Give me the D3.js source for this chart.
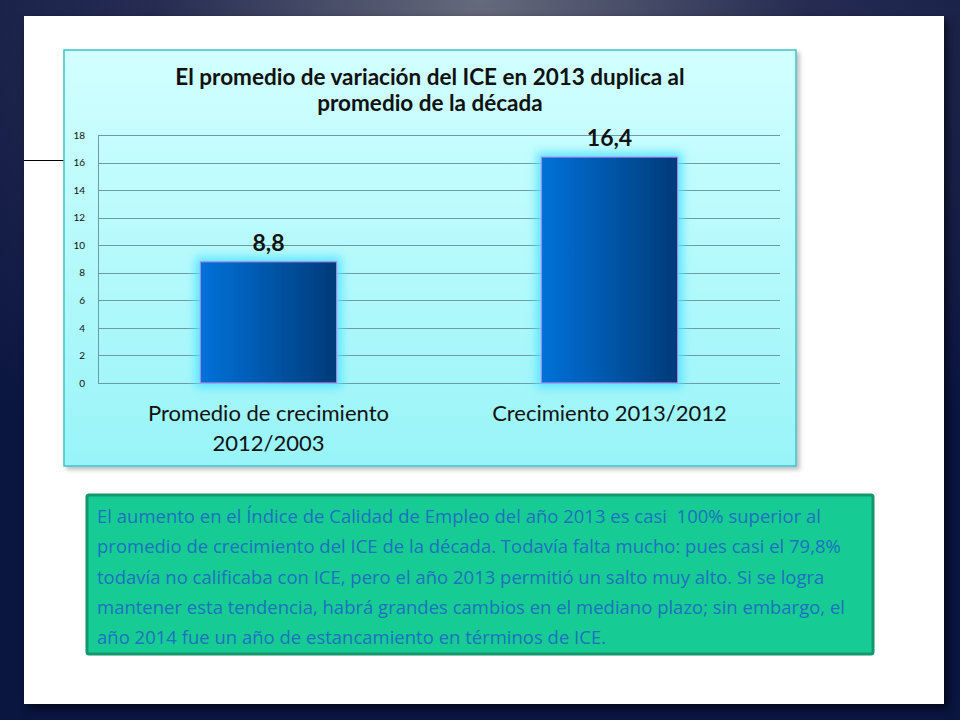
<!DOCTYPE html>
<html>
<head>
<meta charset="utf-8">
<script src="https://cdn.jsdelivr.net/npm/d3@7"></script>
<style>
  html, body { margin: 0; padding: 0; background: #0b1538; }
  svg { display: block; }
</style>
</head>
<body>
<div id="chart"></div>
<script>
var categories = [["Promedio de crecimiento", "2012/2003"], ["Crecimiento 2013/2012"]];
var values = [8.8, 16.4];
var valueLabels = ["8,8", "16,4"];
var yTicks = [0, 2, 4, 6, 8, 10, 12, 14, 16, 18];
var titleLines = ["El promedio de variación del ICE en 2013 duplica al", "promedio de la década"];
var noteLines = [
  "El aumento en el Índice de Calidad de Empleo del año 2013 es casi  100% superior al",
  "promedio de crecimiento del ICE de la década. Todavía falta mucho: pues casi el 79,8%",
  "todavía no calificaba con ICE, pero el año 2013 permitió un salto muy alto. Si se logra",
  "mantener esta tendencia, habrá grandes cambios en el mediano plazo; sin embargo, el",
  "año 2014 fue un año de estancamiento en términos de ICE."
];

var W = 960, H = 720;
var font = "Lato, 'Open Sans', sans-serif";

var svg = d3.select("#chart").append("svg")
  .attr("width", W)
  .attr("height", H);

var defs = svg.append("defs");

// slide background
var bg = defs.append("radialGradient").attr("id", "bg")
  .attr("cx", "50%").attr("cy", "0%").attr("r", "75%");
bg.append("stop").attr("offset", "0%").attr("stop-color", "#666a7c");
bg.append("stop").attr("offset", "45%").attr("stop-color", "#262c52");
bg.append("stop").attr("offset", "100%").attr("stop-color", "#0a1540");

var chartBg = defs.append("linearGradient").attr("id", "chartBg")
  .attr("x1", 0).attr("y1", 0).attr("x2", 0).attr("y2", 1);
chartBg.append("stop").attr("offset", "0%").attr("stop-color", "#d2ffff");
chartBg.append("stop").attr("offset", "100%").attr("stop-color", "#98f4f8");

var barFill = defs.append("linearGradient").attr("id", "barFill")
  .attr("x1", 0).attr("y1", 0).attr("x2", 1).attr("y2", 0);
barFill.append("stop").attr("offset", "0%").attr("stop-color", "#0072da");
barFill.append("stop").attr("offset", "100%").attr("stop-color", "#013a78");

var glow = defs.append("filter").attr("id", "glow")
  .attr("x", "-30%").attr("y", "-30%").attr("width", "160%").attr("height", "160%");
glow.append("feMorphology").attr("in", "SourceAlpha").attr("operator", "dilate").attr("radius", 4).attr("result", "d");
glow.append("feGaussianBlur").attr("in", "d").attr("stdDeviation", 5).attr("result", "b");
glow.append("feFlood").attr("flood-color", "#55e4ff").attr("flood-opacity", 0.95);
glow.append("feComposite").attr("in2", "b").attr("operator", "in").attr("result", "g");
var gm = glow.append("feMerge");
gm.append("feMergeNode").attr("in", "g");
gm.append("feMergeNode").attr("in", "SourceGraphic");

var shadow = defs.append("filter").attr("id", "shadow")
  .attr("x", "-5%").attr("y", "-5%").attr("width", "110%").attr("height", "110%");
shadow.append("feDropShadow").attr("dx", 3).attr("dy", 3).attr("stdDeviation", 2)
  .attr("flood-color", "#000").attr("flood-opacity", 0.25);

svg.append("rect").attr("width", W).attr("height", H).attr("fill", "url(#bg)");

// white slide panel
svg.append("rect")
  .attr("x", 24).attr("y", 16).attr("width", 920).attr("height", 688)
  .attr("fill", "#fff")
  .style("filter", "drop-shadow(4px 4px 4px rgba(0,0,0,0.6))");

// stray line left of the chart
svg.append("line")
  .attr("x1", 24).attr("x2", 66).attr("y1", 160.5).attr("y2", 160.5)
  .attr("stroke", "#000").attr("stroke-width", 1);

// chart box
var box = {x: 64, y: 50, w: 732, h: 416};
svg.append("rect")
  .attr("x", box.x).attr("y", box.y).attr("width", box.w).attr("height", box.h)
  .attr("fill", "url(#chartBg)")
  .attr("stroke", "#3fc4c9").attr("stroke-width", 1.5)
  .attr("filter", "url(#shadow)");

var title = svg.append("text")
  .attr("text-anchor", "middle")
  .style("font-family", font).style("font-weight", "bold")
  .style("font-size", "22.5px").attr("fill", "#111");
titleLines.forEach(function (t, i) {
  title.append("tspan").attr("x", box.x + box.w / 2).attr("y", 85 + i * 26).text(t);
});

var margin = {left: 98, right: 780, top: 135, bottom: 383};

var x = d3.scaleBand()
  .domain(d3.range(values.length))
  .range([margin.left, margin.right])
  .paddingInner(0.6)
  .paddingOuter(0.3);

var y = d3.scaleLinear()
  .domain([0, 18])
  .range([margin.bottom, margin.top]);

// gridlines
svg.append("g")
  .selectAll("line")
  .data(yTicks)
  .enter()
  .append("line")
  .attr("x1", margin.left).attr("x2", margin.right)
  .attr("y1", function (d) { return Math.round(y(d)) + 0.5; })
  .attr("y2", function (d) { return Math.round(y(d)) + 0.5; })
  .attr("stroke", "#6d9ca8").attr("stroke-width", 1);

// y axis
var yAxis = svg.append("g")
  .attr("transform", "translate(" + margin.left + ",0)")
  .call(d3.axisLeft(y).tickValues(yTicks).tickSize(0).tickPadding(13));
yAxis.select(".domain").attr("stroke", "#6d9ca8");
yAxis.selectAll("text")
  .style("font-family", font).style("font-size", "10px").attr("fill", "#111");

// bars
svg.selectAll(".bar")
  .data(values)
  .enter()
  .append("rect")
  .attr("class", "bar")
  .attr("x", function (d, i) { return x(i); })
  .attr("width", x.bandwidth())
  .attr("y", function (d) { return y(d); })
  .attr("height", function (d) { return y(0) - y(d); })
  .attr("fill", "url(#barFill)")
  .attr("stroke", "#a88af0").attr("stroke-width", 1.2)
  .attr("filter", "url(#glow)");

// value labels
svg.selectAll(".value")
  .data(values)
  .enter()
  .append("text")
  .attr("class", "value")
  .attr("text-anchor", "middle")
  .attr("x", function (d, i) { return x(i) + x.bandwidth() / 2; })
  .attr("y", function (d) { return y(d) - 11; })
  .style("font-family", font).style("font-weight", "bold")
  .style("font-size", "23px").attr("fill", "#111")
  .text(function (d, i) { return valueLabels[i]; });

// category labels
categories.forEach(function (lines, i) {
  var t = svg.append("text")
    .attr("text-anchor", "middle")
    .style("font-family", font).style("font-size", "22px").attr("fill", "#111");
  lines.forEach(function (l, j) {
    t.append("tspan")
      .attr("x", x(i) + x.bandwidth() / 2)
      .attr("y", 421 + j * 30)
      .text(l);
  });
});

// note box
svg.append("rect")
  .attr("x", 87).attr("y", 495).attr("width", 786).attr("height", 159)
  .attr("rx", 2)
  .attr("fill", "#16cc94")
  .attr("stroke", "#12986c").attr("stroke-width", 3);

var note = svg.append("text")
  .style("font-family", "'Open Sans', sans-serif")
  .style("font-size", "18.5px").style("white-space", "pre")
  .attr("fill", "#1f70c0");
noteLines.forEach(function (l, i) {
  note.append("tspan").attr("x", 97).attr("y", 523 + i * 30.3).text(l);
});
</script>
</body>
</html>
